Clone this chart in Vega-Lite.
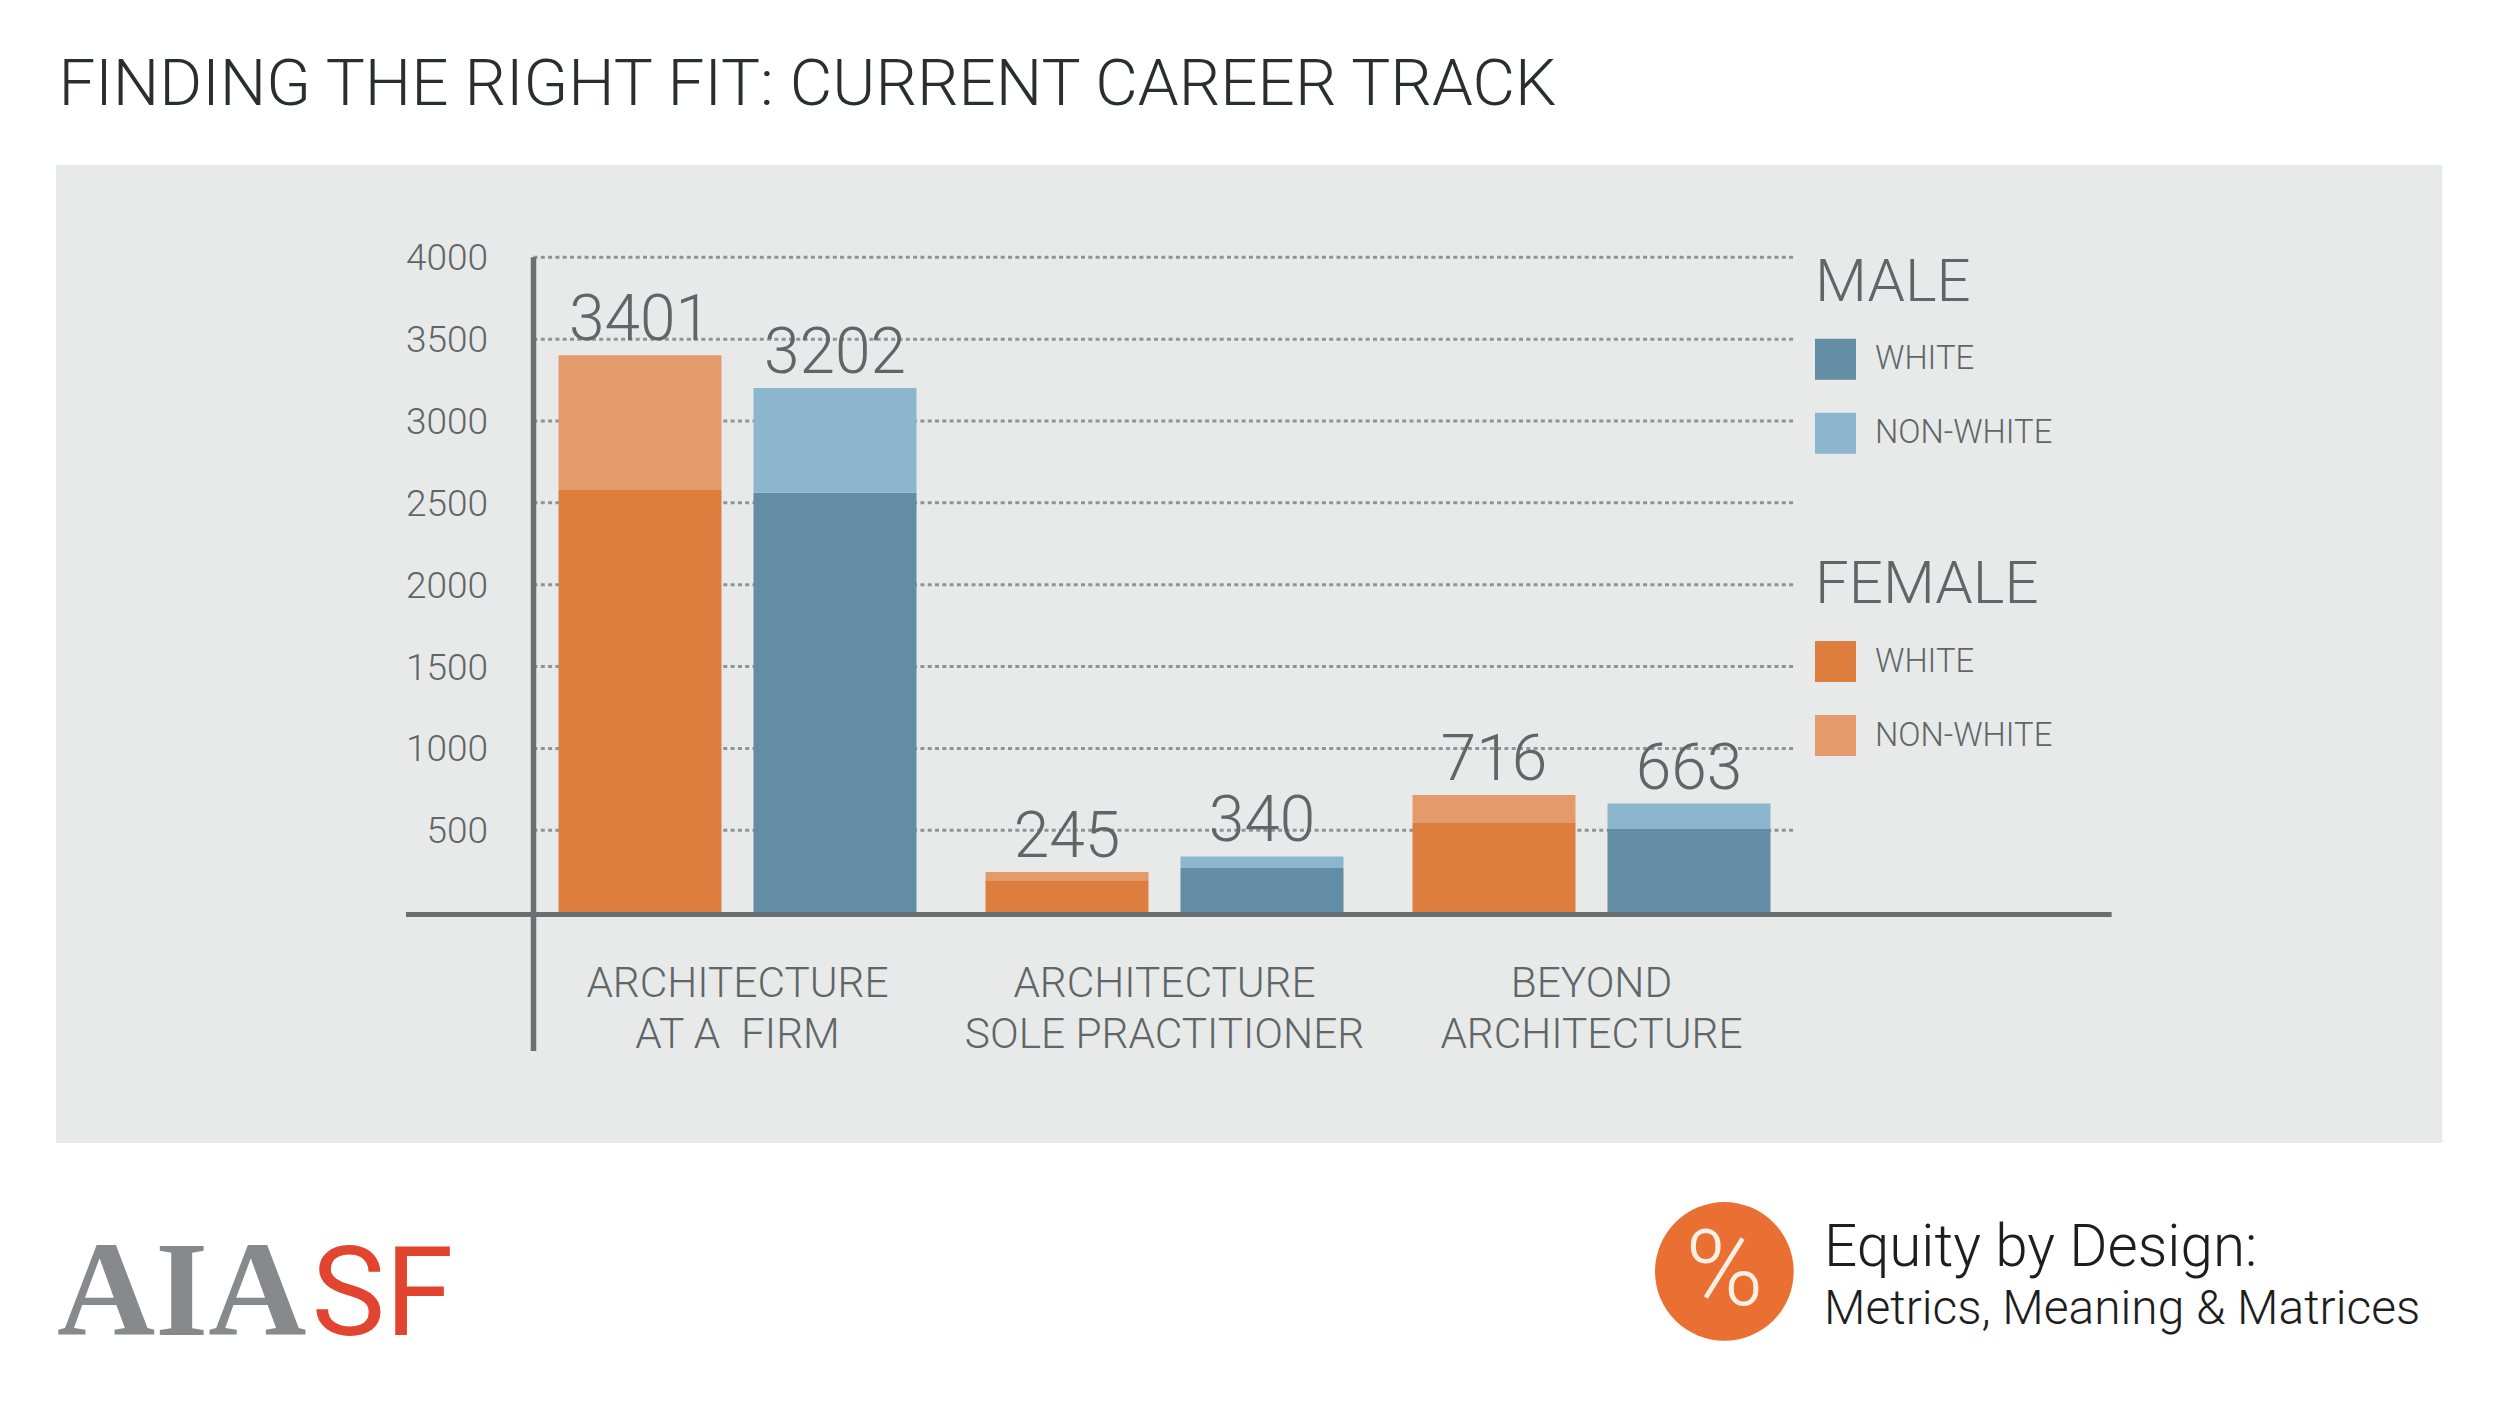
{"$schema":"https://vega.github.io/schema/vega-lite/v6.json","width":1261.5,"height":654.8,"autosize":{"type":"none"},"padding":{"left":533.5,"top":257.3,"right":705,"bottom":495.9},"background":"#ffffff","view":{"stroke":null},"title":{"text":"FINDING THE RIGHT FIT: CURRENT CAREER TRACK","anchor":"start","frame":"group","dx":-475,"offset":-6,"baseline":"alphabetic","font":"Roboto","fontWeight":300,"fontSize":65.5,"color":"#2b2e30"},"datasets":{"bars":[{"category":"ARCHITECTURE|AT A\u00a0 FIRM","gender":"FEMALE","race":"WHITE","value":2578},{"category":"ARCHITECTURE|AT A\u00a0 FIRM","gender":"FEMALE","race":"NON-WHITE","value":823},{"category":"ARCHITECTURE|AT A\u00a0 FIRM","gender":"MALE","race":"WHITE","value":2561},{"category":"ARCHITECTURE|AT A\u00a0 FIRM","gender":"MALE","race":"NON-WHITE","value":641},{"category":"ARCHITECTURE|SOLE PRACTITIONER","gender":"FEMALE","race":"WHITE","value":195},{"category":"ARCHITECTURE|SOLE PRACTITIONER","gender":"FEMALE","race":"NON-WHITE","value":50},{"category":"ARCHITECTURE|SOLE PRACTITIONER","gender":"MALE","race":"WHITE","value":270},{"category":"ARCHITECTURE|SOLE PRACTITIONER","gender":"MALE","race":"NON-WHITE","value":70},{"category":"BEYOND|ARCHITECTURE","gender":"FEMALE","race":"WHITE","value":545},{"category":"BEYOND|ARCHITECTURE","gender":"FEMALE","race":"NON-WHITE","value":171},{"category":"BEYOND|ARCHITECTURE","gender":"MALE","race":"WHITE","value":507},{"category":"BEYOND|ARCHITECTURE","gender":"MALE","race":"NON-WHITE","value":156}],"ticks":[{"tick":500},{"tick":1000},{"tick":1500},{"tick":2000},{"tick":2500},{"tick":3000},{"tick":3500},{"tick":4000}]},"resolve":{"scale":{"x":"independent","color":"independent"},"legend":{"color":"independent"},"axis":{"x":"independent"}},"layer":[{"data":{"values":[{"shape":"panel"}]},"mark":{"type":"rect","color":"#e8eaea"},"encoding":{"x":{"datum":-37.85,"type":"quantitative","scale":{"domain":[0,100],"nice":false,"zero":false},"axis":null},"x2":{"datum":151.3},"y":{"datum":4564,"type":"quantitative","scale":{"domain":[0,4000],"nice":false},"axis":{"title":null,"values":[500,1000,1500,2000,2500,3000,3500,4000],"format":"d","domain":false,"ticks":false,"grid":false,"labelPadding":46,"labelOffset":1.5,"labelFont":"Roboto","labelFontSize":37,"labelFontWeight":300,"labelColor":"#5f6668","zindex":1}},"y2":{"datum":-1410}}},{"data":{"name":"ticks"},"mark":{"type":"rule","color":"#8e9496","strokeWidth":3,"strokeDash":[4,3.3]},"encoding":{"x":{"datum":0,"type":"quantitative","scale":{"domain":[0,100],"nice":false,"zero":false},"axis":null},"x2":{"datum":100},"y":{"field":"tick","type":"quantitative","scale":{"domain":[0,4000],"nice":false}}}},{"data":{"values":[{"line":"baseline"}]},"mark":{"type":"rule","color":"#6a7072","strokeWidth":5},"encoding":{"x":{"datum":-10.11,"type":"quantitative","scale":{"domain":[0,100],"nice":false,"zero":false},"axis":null},"x2":{"datum":125.1},"y":{"datum":-14,"type":"quantitative","scale":{"domain":[0,4000],"nice":false}}}},{"data":{"values":[{"line":"vertical"}]},"mark":{"type":"rule","color":"#6a7072","strokeWidth":5.5},"encoding":{"x":{"datum":0,"type":"quantitative","scale":{"domain":[0,100],"nice":false,"zero":false},"axis":null},"y":{"datum":4000,"type":"quantitative","scale":{"domain":[0,4000],"nice":false}},"y2":{"datum":-849}}},{"data":{"name":"bars"},"transform":[{"filter":"datum.gender === 'FEMALE'"}],"mark":{"type":"bar"},"encoding":{"x":{"field":"category","type":"nominal","sort":null,"scale":{"type":"band","range":[-9.5,1271.5],"paddingInner":0,"paddingOuter":0},"axis":{"title":null,"labelAngle":0,"domain":false,"ticks":false,"labelExpr":"split(datum.label,'|')","labelLineHeight":51,"labelPadding":51,"labelFont":"Roboto","labelFontSize":42.4,"labelFontWeight":300,"labelColor":"#5f6668","labelLimit":600,"zindex":1}},"xOffset":{"field":"gender","type":"nominal","scale":{"domain":["FEMALE","MALE"],"paddingInner":0.164,"paddingOuter":0.177}},"y":{"field":"value","type":"quantitative","stack":"zero","scale":{"domain":[0,4000],"nice":false}},"order":{"field":"race","sort":"descending"},"color":{"field":"race","type":"nominal","scale":{"domain":["WHITE","NON-WHITE"],"range":["#dd7e3f","#e59a6b"]},"legend":{"title":"FEMALE","orient":"none","legendX":1281.5,"legendY":298.7,"padding":0,"titleFont":"Roboto","titleFontSize":60,"titleFontWeight":300,"titleColor":"#5f6668","titlePadding":25,"titleLimit":400,"labelFont":"Roboto","labelFontSize":32.8,"labelFontWeight":300,"labelColor":"#5f6668","labelOffset":19,"labelLimit":400,"symbolType":"square","symbolSize":1681,"symbolStrokeWidth":0,"symbolOpacity":1,"rowPadding":33}}}},{"data":{"name":"bars"},"transform":[{"filter":"datum.gender === 'MALE'"}],"mark":{"type":"bar"},"encoding":{"x":{"field":"category","type":"nominal","sort":null,"scale":{"type":"band","range":[-9.5,1271.5],"paddingInner":0,"paddingOuter":0},"axis":null},"xOffset":{"field":"gender","type":"nominal","scale":{"domain":["FEMALE","MALE"],"paddingInner":0.164,"paddingOuter":0.177}},"y":{"field":"value","type":"quantitative","stack":"zero","scale":{"domain":[0,4000],"nice":false}},"order":{"field":"race","sort":"descending"},"color":{"field":"race","type":"nominal","scale":{"domain":["WHITE","NON-WHITE"],"range":["#638ca5","#8cb6cd"]},"legend":{"title":"MALE","orient":"none","legendX":1281.5,"legendY":-3.5,"padding":0,"titleFont":"Roboto","titleFontSize":60,"titleFontWeight":300,"titleColor":"#5f6668","titlePadding":25,"titleLimit":400,"labelFont":"Roboto","labelFontSize":32.8,"labelFontWeight":300,"labelColor":"#5f6668","labelOffset":19,"labelLimit":400,"symbolType":"square","symbolSize":1681,"symbolStrokeWidth":0,"symbolOpacity":1,"rowPadding":33}}}},{"data":{"name":"bars"},"transform":[{"aggregate":[{"op":"sum","field":"value","as":"total"}],"groupby":["category","gender"]}],"mark":{"type":"text","font":"Roboto","fontWeight":300,"fontSize":64,"color":"#5f6668","baseline":"alphabetic","dy":-15},"encoding":{"x":{"field":"category","type":"nominal","sort":null,"scale":{"type":"band","range":[-9.5,1271.5],"paddingInner":0,"paddingOuter":0},"axis":null},"xOffset":{"field":"gender","type":"nominal","scale":{"domain":["FEMALE","MALE"],"paddingInner":0.164,"paddingOuter":0.177}},"y":{"field":"total","type":"quantitative","scale":{"domain":[0,4000],"nice":false}},"text":{"field":"total","type":"quantitative","format":"d"}}},{"data":{"values":[{"label":"AIA"}]},"mark":{"type":"text","font":"Liberation Serif","fontWeight":"bold","fontSize":136,"color":"#87898c","align":"left","baseline":"alphabetic"},"encoding":{"x":{"datum":-37.77,"type":"quantitative","scale":{"domain":[0,100],"nice":false,"zero":false},"axis":null},"y":{"datum":-2581,"type":"quantitative","scale":{"domain":[0,4000],"nice":false}},"text":{"field":"label"}}},{"data":{"values":[{"label":"SF"}]},"mark":{"type":"text","font":"Roboto","fontSize":124,"color":"#e2452f","align":"left","baseline":"alphabetic"},"encoding":{"x":{"datum":-17.6,"type":"quantitative","scale":{"domain":[0,100],"nice":false,"zero":false},"axis":null},"y":{"datum":-2581,"type":"quantitative","scale":{"domain":[0,4000],"nice":false}},"text":{"field":"label"}}},{"data":{"values":[{"label":"badge"}]},"mark":{"type":"point","shape":"circle","filled":true,"color":"#e96f32","opacity":1,"size":19240},"encoding":{"x":{"datum":94.4,"type":"quantitative","scale":{"domain":[0,100],"nice":false,"zero":false},"axis":null},"y":{"datum":-2195,"type":"quantitative","scale":{"domain":[0,4000],"nice":false}}}},{"data":{"values":[{"label":"%"}]},"mark":{"type":"text","font":"Roboto","fontWeight":300,"fontSize":106,"color":"#fbeee3","align":"center","baseline":"middle","dy":2},"encoding":{"x":{"datum":94.4,"type":"quantitative","scale":{"domain":[0,100],"nice":false,"zero":false},"axis":null},"y":{"datum":-2195,"type":"quantitative","scale":{"domain":[0,4000],"nice":false}},"text":{"field":"label"}}},{"data":{"values":[{"label":"Equity by Design:"}]},"mark":{"type":"text","font":"Roboto","fontWeight":300,"fontSize":58.4,"color":"#1e1e1e","align":"left","baseline":"alphabetic"},"encoding":{"x":{"datum":102.3,"type":"quantitative","scale":{"domain":[0,100],"nice":false,"zero":false},"axis":null},"y":{"datum":-2161,"type":"quantitative","scale":{"domain":[0,4000],"nice":false}},"text":{"field":"label"}}},{"data":{"values":[{"label":"Metrics, Meaning & Matrices"}]},"mark":{"type":"text","font":"Roboto","fontWeight":300,"fontSize":47.9,"color":"#1e1e1e","align":"left","baseline":"alphabetic"},"encoding":{"x":{"datum":102.3,"type":"quantitative","scale":{"domain":[0,100],"nice":false,"zero":false},"axis":null},"y":{"datum":-2517,"type":"quantitative","scale":{"domain":[0,4000],"nice":false}},"text":{"field":"label"}}}]}
